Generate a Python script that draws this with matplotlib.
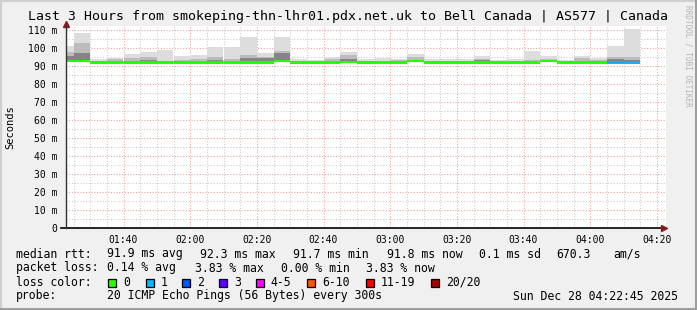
import numpy as np
import matplotlib
matplotlib.use("Agg")
import matplotlib.pyplot as plt
from matplotlib.patches import Rectangle
from matplotlib.ticker import MultipleLocator, FuncFormatter

W, H = 697, 310
MONO = "DejaVu Sans Mono"

# time axis in minutes after midnight: 01:22:45 .. 04:22:45
t_start = 82.75
t_end = 262.75
bar_edges = [82.75] + list(range(85, 256, 5))   # last bin ends 04:15

# per 5 minute bin (ms): median rtt, smoke top / mid band / dark band, lost pings of 20
median = [92.7, 92.7, 92.0, 92.0, 92.0, 92.0, 92.0, 92.0, 92.0, 92.0,
          92.0, 92.0, 92.0, 92.6, 92.0, 92.0, 92.0, 92.4, 92.0, 92.0,
          92.0, 92.6, 92.0, 92.0, 92.0, 92.0, 92.0, 92.0, 92.0, 92.6,
          92.0, 92.0, 92.0, 91.8, 91.8]
smoke_top = [101.1, 108.5, 93.7, 94.5, 96.7, 97.8, 98.9, 95.6, 95.9, 100.4,
             100.4, 106.1, 97.4, 106.3, 93.7, 93.3, 94.8, 97.8, 93.7, 94.6,
             94.0, 96.7, 93.7, 94.0, 94.0, 95.6, 93.3, 94.0, 98.5, 95.6,
             93.3, 95.6, 94.5, 101.1, 110.7]
smoke_mid = [97.8, 102.9, 0, 93.7, 94.5, 95.2, 0, 93.5, 94.0, 95.2,
             93.7, 95.9, 95.0, 98.5, 0, 0, 93.8, 95.9, 0, 0,
             93.3, 95.0, 0, 0, 0, 94.0, 0, 0, 93.5, 94.0,
             0, 94.2, 93.5, 95.0, 95.0]
smoke_dark = [95.6, 97.4, 0, 0, 0, 93.5, 0, 0, 0, 93.5,
              0, 94.3, 94.5, 97.4, 0, 0, 0, 94.0, 0, 0,
              0, 93.5, 0, 0, 0, 93.3, 0, 0, 0, 0,
              0, 0, 0, 93.8, 93.5]
loss = [0] * 33 + [1, 1]

loss_labels = ["0", "1", "2", "3", "4-5", "6-10", "11-19", "20/20"]
loss_colors = ["#26ff00", "#00b8ff", "#0059ff", "#5e00ff", "#ff00ff",
               "#ff5500", "#ff0000", "#a00000"]


def loss_color(n):
    for lim, c in zip([0, 1, 2, 3, 5, 10, 19, 20], loss_colors):
        if n <= lim:
            return c
    return loss_colors[-1]


left = np.array(bar_edges[:-1])
width = np.diff(bar_edges)
med = np.array(median)
low = med - 0.4

fig = plt.figure(figsize=(W / 100, H / 100), dpi=100, facecolor="#f0f0f0")

# 3d frame
fig.patches.append(Rectangle((0, 0), 1, 1, transform=fig.transFigure,
                             fill=False, ec="#cfcfcf", lw=3))
fig.patches.append(Rectangle((0, 0), 1, 2.5 / H, transform=fig.transFigure,
                             color="#9e9e9e", lw=0))
fig.patches.append(Rectangle((1 - 2.5 / W, 0), 2.5 / W, 1, transform=fig.transFigure,
                             color="#9e9e9e", lw=0))

ax_l, ax_r, ax_b, ax_t = 66, 666, 228.3, 26
ax = fig.add_axes([ax_l / W, 1 - ax_b / H, (ax_r - ax_l) / W, (ax_b - ax_t) / H])
ax.set_facecolor("white")
ymax = (ax_b - ax_t) / 1.803
ax.set_xlim(t_start, t_end)
ax.set_ylim(0, ymax)

# grid
ax.xaxis.set_major_locator(MultipleLocator(20))
ax.xaxis.set_minor_locator(MultipleLocator(5))
ax.yaxis.set_major_locator(MultipleLocator(10))
ax.yaxis.set_minor_locator(MultipleLocator(5))
ax.grid(which="minor", color="#cfcfcf", ls=(0, (1, 1.5)), lw=0.8)
ax.grid(which="major", color="#f2a5a5", ls=(0, (1, 1.5)), lw=0.8)
ax.set_axisbelow(True)

# smoke
for vals, col in [(smoke_top, "#dddddd"), (smoke_mid, "#bcbcbc"), (smoke_dark, "#858585")]:
    v = np.array(vals)
    h = np.where(v > 0, v - low, 0)
    ax.bar(left, h, width=width, bottom=low, align="edge", color=col, lw=0)

# median line coloured by loss
ax.bar(left, 1.2, width=width, bottom=med - 0.6, align="edge",
       color=[loss_color(n) for n in loss], lw=0)

# axes
for s in ["top", "right"]:
    ax.spines[s].set_visible(False)
ax.spines["left"].set_color("#333333")
ax.spines["bottom"].set_visible(False)
ax.spines["left"].set_linewidth(1)
ax.plot([-0.008, 0.995], [0, 0], color="black", lw=1.2, transform=ax.transAxes, clip_on=False)
ax.plot([0], [1.01], marker="^", ms=4, color="#8b1a1a", transform=ax.transAxes, clip_on=False)
ax.plot([0.997], [0], marker=">", ms=4, color="#8b1a1a", transform=ax.transAxes, clip_on=False)

ax.xaxis.set_major_formatter(FuncFormatter(lambda m, p: f"{int(m // 60):02d}:{int(round(m % 60)):02d}"))
ax.yaxis.set_major_formatter(FuncFormatter(lambda v, p: "0" if v == 0 else f"{v:.0f} m"))
ax.tick_params(which="both", length=0)
ax.tick_params(axis="x", pad=5)
ax.tick_params(axis="y", pad=6)
for lab in ax.get_xticklabels() + ax.get_yticklabels():
    lab.set_fontfamily(MONO)
    lab.set_fontsize(7)

ax.set_title("Last 3 Hours from smokeping-thn-lhr01.pdx.net.uk to Bell Canada | AS577 | Canada",
             fontfamily=MONO, fontsize=9.5, x=(347.5 - ax_l) / (ax_r - ax_l), y=1.0, pad=4.5)
fig.text(10 / W, 1 - 127 / H, "Seconds", rotation=90, va="center", ha="center",
         fontfamily=MONO, fontsize=7.5)
fig.text(688 / W, 1 - 5 / H, "RRDTOOL / TOBI OETIKER", rotation=270, va="top", ha="center",
         fontfamily=MONO, fontsize=5.6, color="#b4b4b4")


def txt(x, y, s):
    fig.text(x / W, 1 - y / H, s, va="center", ha="left", fontfamily=MONO, fontsize=8.3)


rows = [
    (254, [(16, "median rtt:"), (107, "91.9 ms avg"), (200, "92.3 ms max"), (293, "91.7 ms min"),
           (387, "91.8 ms now"), (479, "0.1 ms sd"), (556, "670.3"), (613, "am/s")]),
    (268, [(16, "packet loss:"), (107, "0.14 % avg"), (195, "3.83 % max"), (281, "0.00 % min"),
           (366, "3.83 % now")]),
    (296, [(16, "probe:"), (107, "20 ICMP Echo Pings (56 Bytes) every 300s"),
           (513, "Sun Dec 28 04:22:45 2025")]),
]
for y, items in rows:
    for x, s in items:
        txt(x, y, s)

txt(16, 282, "loss color:")
sw_x = [108, 145.7, 182.3, 219, 255.7, 307.3, 365.7, 430.7]
for x, lab, col in zip(sw_x, loss_labels, loss_colors):
    fig.patches.append(Rectangle((x / W, 1 - 286.5 / H), 8 / W, 8 / H, transform=fig.transFigure,
                                 fc=col, ec="black", lw=0.9))
    txt(x + 15, 282, lab)

fig.savefig("out.png", dpi=100, facecolor=fig.get_facecolor())
